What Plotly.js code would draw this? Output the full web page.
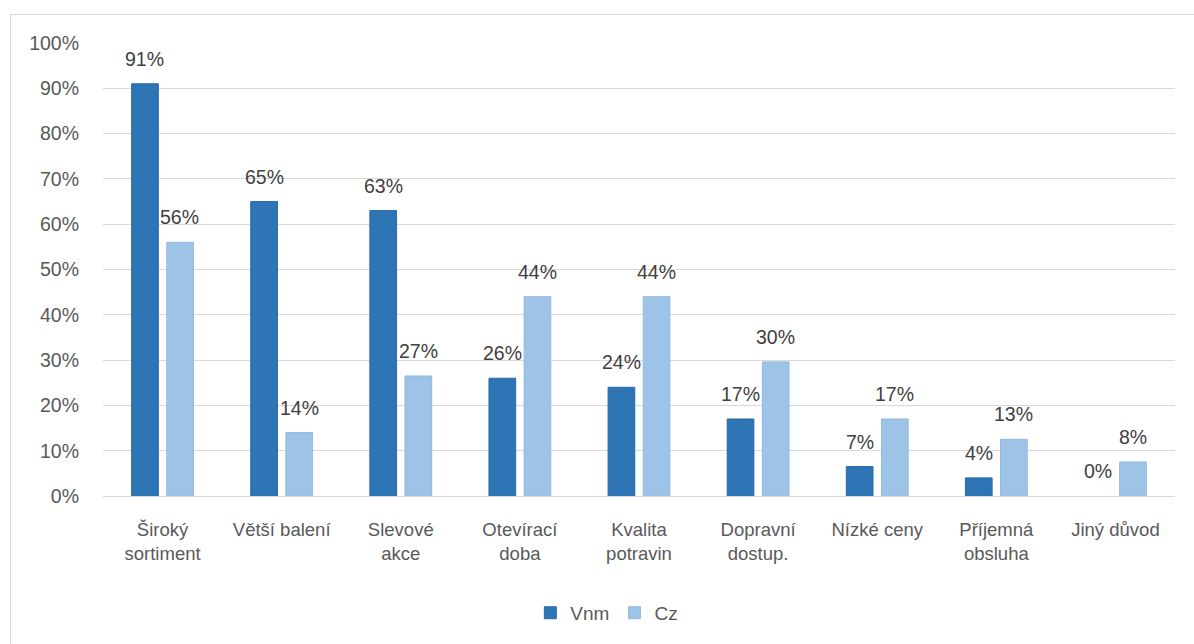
<!DOCTYPE html>
<html>
<head>
<meta charset="utf-8">
<script src="https://cdn.plot.ly/plotly-3.0.1.min.js"></script>
<style>
  html, body { margin: 0; padding: 0; background: #ffffff; }
  #wrap { position: relative; width: 1194px; height: 644px; overflow: hidden; }
  #frame { position: absolute; left: 10px; top: 14px; width: 1200px; height: 700px;
           border-left: 1px solid #d9d9d9; border-top: 1px solid #d9d9d9; }
  #chart { position: absolute; left: 0; top: 0; width: 1194px; height: 644px; }
</style>
</head>
<body>
<div id="wrap">
  <div id="frame"></div>
  <div id="chart"></div>
</div>
<script>
const categories = [
  "Široký<br>sortiment", "Větší balení", "Slevové<br>akce", "Otevírací<br>doba",
  "Kvalita<br>potravin", "Dopravní<br>dostup.", "Nízké ceny", "Příjemná<br>obsluha", "Jiný důvod"
];
const seriesNames = ["Vnm", "Cz"];
const vnmValues = [91, 65, 63, 26, 24, 17, 6.5, 4, 0];
const czValues  = [56, 14, 26.5, 44, 44, 29.6, 17, 12.5, 7.5];
const yTickVals = [0, 10, 20, 30, 40, 50, 60, 70, 80, 90, 100];
const yTickText = ["0%", "10%", "20%", "30%", "40%", "50%", "60%", "70%", "80%", "90%", "100%"];

const colors = ["#2e75b6", "#9dc3e6"];
const lineColors = ["#2a6aa6", "#92b9df"];
const allValues = [vnmValues, czValues];

const FONT = "Liberation Sans, Arial, sans-serif";

const traces = allValues.map((vals, i) => ({
  type: "bar",
  name: seriesNames[i],
  x: categories,
  y: vals,
  marker: { color: colors[i], line: { color: lineColors[i], width: vals.map(v => v > 0 ? 1 : 0) } },
  hoverinfo: "skip"
}));

const annotations = [];
const shifts = [-17.6, 17.4];
allValues.forEach((vals, i) => {
  vals.forEach((v, j) => {
    annotations.push({
      x: categories[j], y: v, xref: "x", yref: "y",
      text: Math.round(v) + "%",
      showarrow: false,
      xanchor: "center", yanchor: "middle",
      xshift: shifts[i], yshift: 25,
      font: { family: FONT, size: 19.5, color: "#404040" }
    });
  });
});

const layout = {
  width: 1194, height: 644,
  paper_bgcolor: "rgba(0,0,0,0)",
  plot_bgcolor: "rgba(0,0,0,0)",
  margin: { l: 103, r: 19, t: 43, b: 148 },
  barmode: "group",
  bargap: 0.41,
  bargroupgap: 0.24,
  showlegend: true,
  legend: {
    orientation: "h", x: 0.47, xanchor: "center", y: -0.258, yanchor: "middle",
    font: { family: FONT, size: 19, color: "#595959" },
    itemwidth: 30, traceorder: "normal"
  },
  xaxis: {
    type: "category",
    tickfont: { family: FONT, size: 18.5, color: "#595959" },
    showgrid: false, showline: true, linecolor: "#d9d9d9", linewidth: 1,
    ticks: "", ticklabelstandoff: 17, fixedrange: true
  },
  yaxis: {
    range: [0, 100],
    tickvals: yTickVals, ticktext: yTickText,
    tickfont: { family: FONT, size: 19.5, color: "#595959" },
    showgrid: true, gridcolor: "#d9d9d9", gridwidth: 1,
    zeroline: false, showline: false, ticks: "", ticklabelstandoff: 23,
    fixedrange: true
  },
  annotations: annotations
};

Plotly.newPlot("chart", traces, layout, { displayModeBar: false, staticPlot: true });
</script>
</body>
</html>
